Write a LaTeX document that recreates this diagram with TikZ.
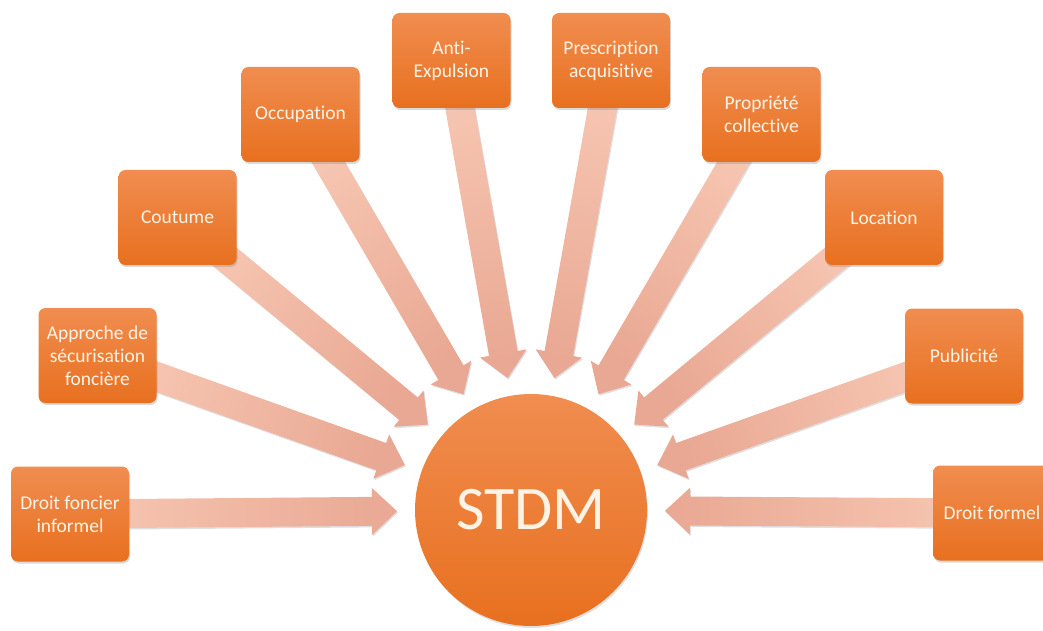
\documentclass[tikz,border=0pt]{standalone}
\usepackage{fontspec}
\setmainfont{Carlito}[Ligatures=NoCommon]
\usetikzlibrary{calc,shadows,backgrounds}
\definecolor{boxtop}{HTML}{F08D50}
\definecolor{boxbot}{HTML}{E8701F}
\definecolor{arrlight}{HTML}{F7C8B4}
\definecolor{arrdark}{HTML}{E9A893}
\definecolor{txt}{HTML}{FFF3E6}
\tikzset{
  box/.style={rectangle, rounded corners=7pt, minimum width=118pt, minimum height=95pt,
    inner sep=2pt, align=center, top color=boxtop, bottom color=boxbot, text=txt,
    font=\fontsize{19.5}{23}\selectfont,
    drop shadow={opacity=0.3, shadow xshift=1pt, shadow yshift=-2pt}},
  hub/.style={circle, minimum size=232pt, inner sep=0pt, top color=boxtop, bottom color=boxbot,
    text=txt, font=\fontsize{62}{70}\selectfont,
    drop shadow={opacity=0.25, shadow xshift=1pt, shadow yshift=-2pt}},
  barrow/.style={bottom color=arrlight, top color=arrdark, shading angle=#1,
    drop shadow={opacity=0.25, shadow xshift=1pt, shadow yshift=-1.5pt}}
}
\newcommand\blockarrow[3]{%
  \coordinate (hb) at ($(#2)!25pt!(#1)$);
  \path[barrow=#3] ($(#1)!14.5pt!90:(#2)$) -- ($(hb)!14.5pt!90:(#2)$)
    -- ($(hb)!23.5pt!90:(#2)$) -- (#2) -- ($(hb)!23.5pt!-90:(#2)$)
    -- ($(hb)!14.5pt!-90:(#2)$) -- ($(#1)!14.5pt!-90:(#2)$) -- cycle;
}
\begin{document}
\begin{tikzpicture}[x=1pt,y=1pt]
\useasboundingbox (0,0) rectangle (1043,630);
\node[box] (b1) at (70,116) {Droit foncier\\informel};
\node[box] (b2) at (97.5,274.5) {Approche de\\sécurisation\\foncière};
\node[box] (b3) at (177.5,412.5) {Coutume};
\node[box] (b4) at (300.5,515.5) {Occupation};
\node[box] (b5) at (451.5,569.5) {Anti-\\Expulsion};
\node[box] (b6) at (611,569.5) {Prescription\\acquisitive};
\node[box] (b7) at (761.5,515.5) {Propriété\\collective};
\node[box] (b8) at (884,412.5) {Location};
\node[box] (b9) at (964,274) {Publicité};
\node[box] (b10) at (992,117) {Droit formel};
\node[hub] (C) at (531,120) {STDM};
\foreach \i in {1,...,10}{
  \coordinate (t\i) at ($(C.center)!134pt!(b\i.center)$);
}
\begin{pgfonlayer}{background}
\blockarrow{b1.center}{t1}{-90}
\blockarrow{b2.center}{t2}{-109.6}
\blockarrow{b3.center}{t3}{-129.6}
\blockarrow{b4.center}{t4}{-149.8}
\blockarrow{b5.center}{t5}{-170}
\blockarrow{b6.center}{t6}{-190.1}
\blockarrow{b7.center}{t7}{-210.2}
\blockarrow{b8.center}{t8}{-230.4}
\blockarrow{b9.center}{t9}{-250.4}
\blockarrow{b10.center}{t10}{90}
\end{pgfonlayer}
\end{tikzpicture}
\end{document}
